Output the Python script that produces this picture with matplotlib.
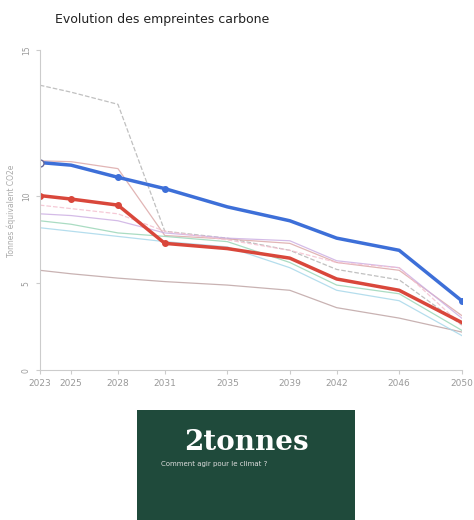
import matplotlib
matplotlib.use('Agg')
import matplotlib.pyplot as plt
from matplotlib.patches import Rectangle

# années et empreintes (t CO2e)
years = [2023, 2025, 2028, 2031, 2035, 2039, 2042, 2046, 2050]

blue = [11.95, 11.8, 11.1, 10.45, 9.4, 8.6, 7.6, 6.9, 4.0]
red = [10.05, 9.85, 9.5, 7.3, 7.0, 6.45, 5.25, 4.6, 2.75]
gray_top = [16.4, 16.0, 15.3, 8.0, 7.6, 6.9, 5.8, 5.2, 2.6]
gray_low = [5.75, 5.55, 5.3, 5.1, 4.9, 4.6, 3.6, 3.0, 2.2]
rose = [12.05, 12.0, 11.6, 7.75, 7.55, 7.3, 6.2, 5.75, 3.15]
lavender = [9.0, 8.9, 8.6, 7.9, 7.6, 7.45, 6.3, 5.9, 3.0]
green = [8.6, 8.4, 7.9, 7.7, 7.4, 6.2, 4.9, 4.4, 2.3]
cyan = [8.2, 8.0, 7.7, 7.4, 7.1, 5.9, 4.6, 4.0, 2.0]
pink = [9.5, 9.3, 9.0, 8.0, 7.5, 6.9, 6.2, 5.9, 2.6]

thin = [
    (gray_top, '#b5b5b5', '--'),
    (gray_low, '#bfa5a5', '-'),
    (rose, '#dca8a8', '-'),
    (lavender, '#cdb0e3', '-'),
    (green, '#9bd6b8', '-'),
    (cyan, '#a8d8ea', '-'),
    (pink, '#f4c0cf', '--'),
]

fig = plt.figure(figsize=(4.74, 5.2), dpi=100)
ax = fig.add_axes([0.084, 0.288, 0.89, 0.615])

for vals, col, ls in thin:
    ax.plot(years, vals, color=col, lw=0.9, ls=ls, alpha=0.85)

ax.plot(years, red, color='#d9473b', lw=2.5)
ax.plot(years[:4], red[:4], 'o', color='#d9473b', ms=4)
ax.plot(years, blue, color='#3d6fd8', lw=2.5)
ax.plot([years[2], years[3], years[-1]], [blue[2], blue[3], blue[-1]], 'o', color='#3d6fd8', ms=4)
ax.plot(years[0], blue[0], 'o', mfc='white', mec='#6a6a9a', ms=5)

ax.set_xlim(2023, 2050)
ax.set_ylim(0, 18.4)
ax.set_xticks(years)
ax.set_xticklabels([str(y) for y in years], fontsize=6.5, color='#888888')
ax.set_yticks([0, 5, 10, 18.4])
ax.set_yticklabels(['0', '5', '10', '15'], fontsize=5.5, rotation=90, va='center')
ax.tick_params(colors='#cccccc', length=3, labelcolor='#999999')
for s in ['top', 'right']:
    ax.spines[s].set_visible(False)
for s in ['left', 'bottom']:
    ax.spines[s].set_color('#cccccc')
ax.set_ylabel('Tonnes équivalent CO2e', fontsize=5.5, color='#aaaaaa')

fig.text(0.117, 0.962, 'Evolution des empreintes carbone', fontsize=9, color='#222222', va='center')

# encart logo
fig.patches.append(Rectangle((0.289, 0.0), 0.46, 0.212, transform=fig.transFigure,
                             facecolor='#1f4a3b', edgecolor='none'))
fig.text(0.52, 0.15, '2tonnes', fontsize=20, color='white', fontweight='bold',
         family='DejaVu Serif', ha='center', va='center')
fig.text(0.34, 0.107, 'Comment agir pour le climat ?', fontsize=5, color='#dddddd',
         ha='left', va='center')

fig.savefig('out.png', dpi=100, facecolor='white')
